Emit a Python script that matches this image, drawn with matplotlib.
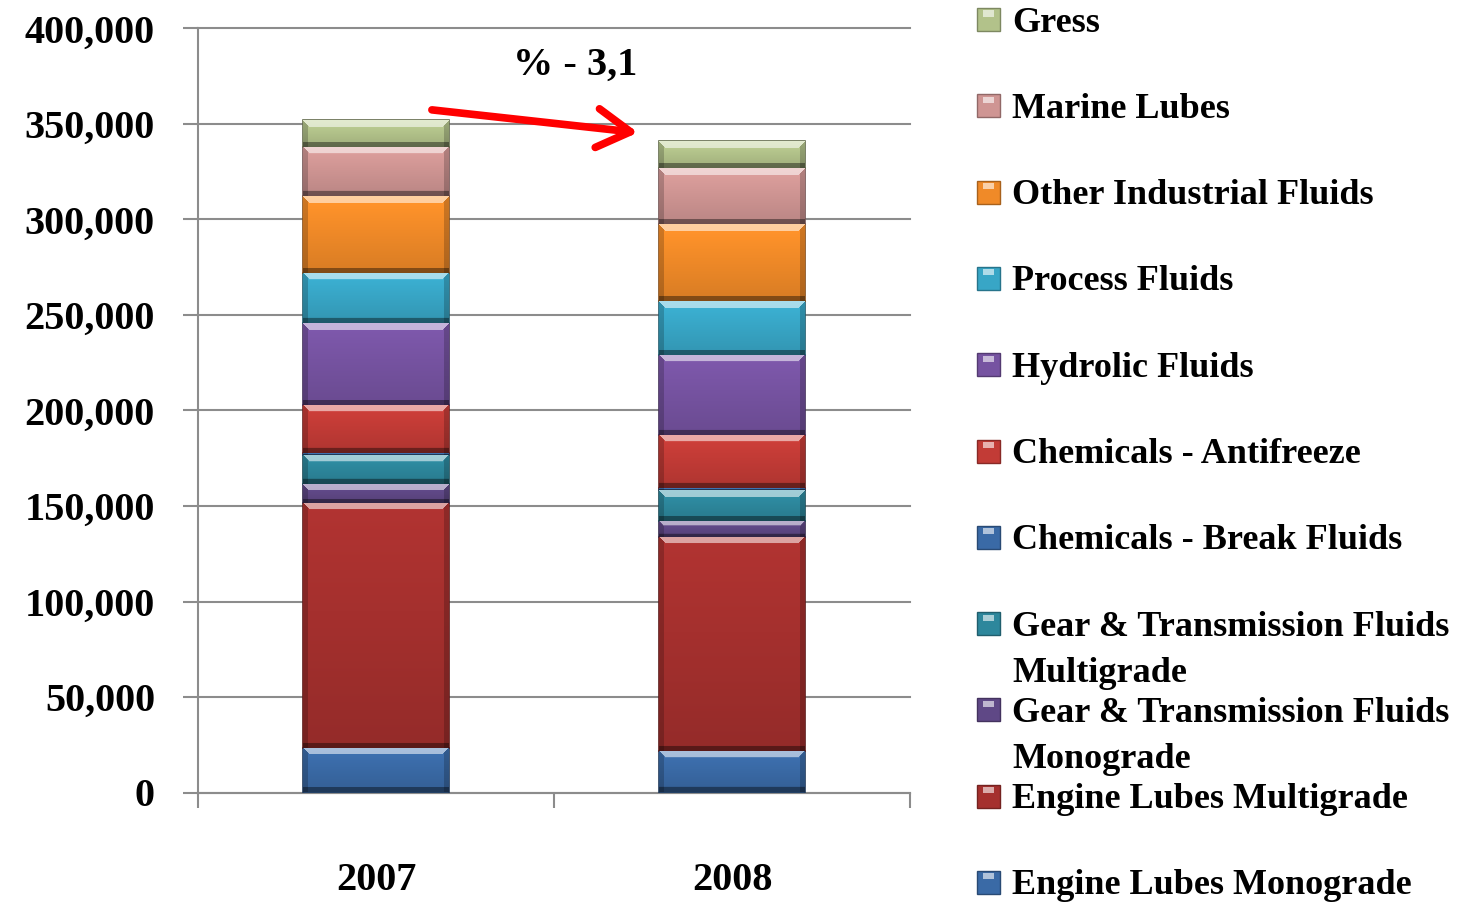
import numpy as np
import matplotlib
matplotlib.use("Agg")
import matplotlib.pyplot as plt
from matplotlib.patches import Rectangle
from matplotlib.colors import to_rgb

# ---------------- data ----------------
years = ["2007", "2008"]
series_names = [
    "Engine Lubes Monograde",
    "Engine Lubes Multigrade",
    "Gear & Transmission Fluids\nMonograde",
    "Gear & Transmission Fluids\nMultigrade",
    "Chemicals - Break Fluids",
    "Chemicals - Antifreeze",
    "Hydrolic Fluids",
    "Process Fluids",
    "Other Industrial Fluids",
    "Marine Lubes",
    "Gress",
]
engine_mono = [23300, 21700]
engine_multi = [128300, 112100]
gear_mono = [9900, 8400]
gear_multi = [15200, 16200]
chem_break = [1000, 1000]
chem_antifreeze = [25200, 27800]
hydrolic = [42900, 41900]
process = [26200, 28200]
other_industrial = [40300, 40300]
marine = [25700, 29300]
gress = [14100, 14100]
series_values = [engine_mono, engine_multi, gear_mono, gear_multi, chem_break,
                 chem_antifreeze, hydrolic, process, other_industrial, marine, gress]
change_label = "% - 3,1"
yticks = [0, 50000, 100000, 150000, 200000, 250000, 300000, 350000, 400000]

colors = ["#3a6aa6", "#a5302e", "#5f4886", "#2d879c", "#3a6aa6",
          "#c23b36", "#7653a1", "#38a6c6", "#f08a28", "#cf9593", "#b2c28a"]

# ---------------- figure ----------------
W, H = 1466, 906
fig = plt.figure(figsize=(W / 100, H / 100), dpi=100)
plt.rcParams['font.family'] = ['Liberation Serif', 'DejaVu Serif']
plt.rcParams['font.weight'] = 'bold'
ax = fig.add_axes([198 / W, (H - 792.5) / H, 712 / W, 764 / H])

x = np.arange(len(years))
bottom = np.zeros(len(years))
patches = []
for vals, col in zip(series_values, colors):
    bars = ax.bar(x, vals, 0.41, bottom=bottom, color=col, zorder=3,
                  edgecolor=tuple(c * 0.55 for c in to_rgb(col)), linewidth=1.2)
    patches.append((bars, col))
    bottom = bottom + np.array(vals)

ax.set_xlim(-0.5, 1.5)
ax.set_ylim(0, 400000)
ax.set_yticks(yticks)
ax.set_yticklabels([f"{v:,}" for v in yticks], fontsize=29, fontweight='bold')
ax.set_xticks(x)
ax.set_xticklabels(years, fontsize=29, fontweight='bold')
ax.set_xticks([-0.5, 0.5, 1.5], minor=True)
ax.tick_params(axis='x', which='major', length=0, pad=50)
ax.tick_params(axis='x', which='minor', length=11, width=1.5, color='#8c8c8c', direction='out')
ax.tick_params(axis='y', length=11, width=1.5, color='#8c8c8c', direction='out', pad=20)
ax.grid(axis='y', color='#8c8c8c', linewidth=1.5, zorder=0)
for gl in ax.get_ygridlines():
    gl.set_clip_on(False)
for s in ['top', 'right']:
    ax.spines[s].set_visible(False)
for s in ['left', 'bottom']:
    ax.spines[s].set_color('#8c8c8c')
    ax.spines[s].set_linewidth(1.5)
ax.set_axisbelow(True)

# bevel shading on each segment
fig.canvas.draw()
for bars, col in patches:
    base = np.array(to_rgb(col))
    for p in bars:
        bb = p.get_window_extent()
        wpx, hpx = max(int(round(bb.width)), 2), max(int(round(bb.height)), 2)
        img = np.tile(base, (hpx, wpx, 1)).astype(float)
        yy = np.arange(hpx)[:, None] * np.ones((1, wpx))
        xx = np.ones((hpx, 1)) * np.arange(wpx)[None, :]
        fac = 1.08 - 0.18 * (yy / max(hpx - 1, 1))
        img = img * fac[..., None]
        bev = min(7, hpx // 3)
        top = (yy < bev) & (xx >= yy) & (xx < wpx - yy)
        img[top] = img[top] * 0.45 + 0.55 * np.array([1, 1, 1])
        bot = (yy >= hpx - max(bev - 2, 1))
        img[bot] = img[bot] * 0.6
        side = ((xx < 5) | (xx >= wpx - 5)) & ~top
        img[side] = img[side] * 0.8
        img = np.clip(img, 0, 1)
        x0, y0 = p.get_x(), p.get_y()
        ax.imshow(img, extent=(x0, x0 + p.get_width(), y0, y0 + p.get_height()),
                  aspect='auto', zorder=3.5, clip_path=p, interpolation='bilinear')
ax.set_xlim(-0.5, 1.5)
ax.set_ylim(0, 400000)

# change arrow
tot = bottom
ax.annotate("", xy=(0.736, tot[1] + 4500), xytext=(0.157, tot[0] + 5300),
            arrowprops=dict(arrowstyle="->,head_length=1.2,head_width=0.7",
                            color='red', lw=5.5, mutation_scale=20,
                            shrinkA=0, shrinkB=0, capstyle='round', joinstyle='round'),
            zorder=6, annotation_clip=False)
ax.text(0.56, 380500, change_label, fontsize=29, fontweight='bold', ha='center',
        va='center', zorder=6)

# legend (manual, reversed order)
y_c = 19.5
for name, col in reversed(list(zip(series_names, colors))):
    rgb = np.array(to_rgb(col))
    fig.add_artist(Rectangle((977 / W, 1 - (y_c + 11.5) / H), 23 / W, 23 / H,
                             transform=fig.transFigure, facecolor=rgb,
                             edgecolor=rgb * 0.7, linewidth=1))
    fig.add_artist(Rectangle((983 / W, 1 - (y_c - 3) / H), 11 / W, 6 / H,
                             transform=fig.transFigure,
                             facecolor=np.clip(rgb * 0.4 + 0.6, 0, 1), linewidth=0))
    for k, line in enumerate(name.split("\n")):
        fig.text(1012 / W, 1 - (y_c + 12 + k * 46) / H, line, fontsize=26,
                 fontweight='bold', ha='left', va='baseline')
    y_c += 86.3

fig.savefig("out.png", dpi=100)
